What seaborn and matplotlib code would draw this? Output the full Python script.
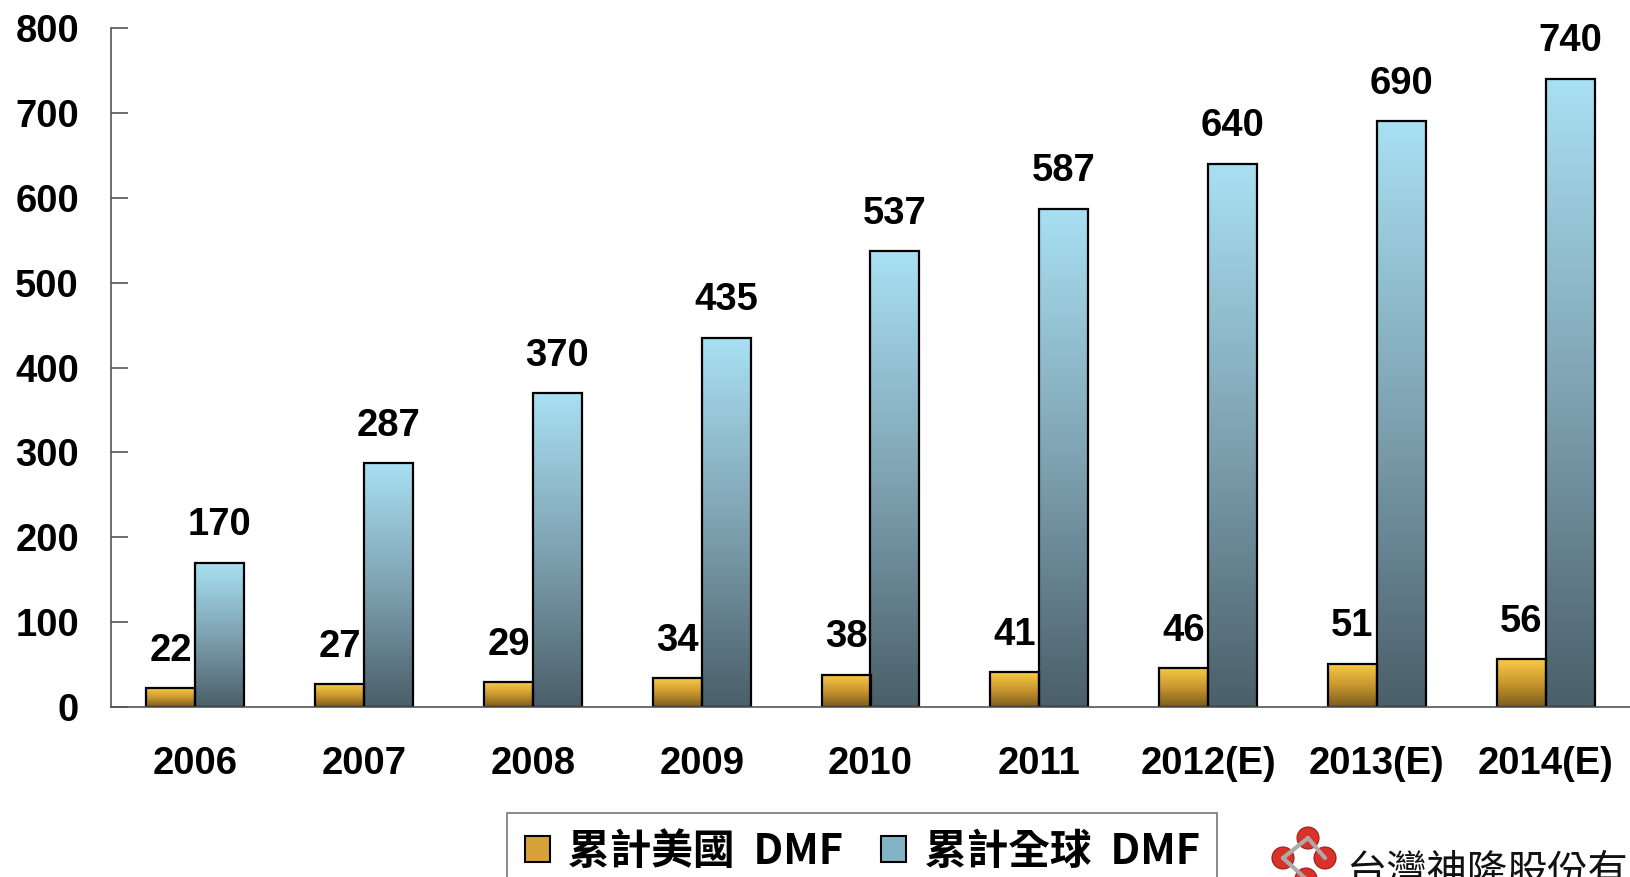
import numpy as np
import pandas as pd
import matplotlib
matplotlib.use("Agg")
import matplotlib.pyplot as plt
import seaborn as sns
from matplotlib.colors import LinearSegmentedColormap
from matplotlib.patches import Patch, Ellipse
from matplotlib.lines import Line2D

years = ["2006", "2007", "2008", "2009", "2010", "2011", "2012(E)", "2013(E)", "2014(E)"]
us_dmf = [22, 27, 29, 34, 38, 41, 46, 51, 56]
global_dmf = [170, 287, 370, 435, 537, 587, 640, 690, 740]
series_names = ["累計美國  DMF", "累計全球  DMF"]
y_ticks = [0, 100, 200, 300, 400, 500, 600, 700, 800]

sns.set_theme(style="white")
plt.rcParams['font.family'] = ['Liberation Sans', 'Noto Sans CJK TC', 'DejaVu Sans']

df = pd.DataFrame({
    "year": years * 2,
    "value": us_dmf + global_dmf,
    "series": [series_names[0]] * len(years) + [series_names[1]] * len(years),
})

W, H = 1630, 877
fig = plt.figure(figsize=(W / 100, H / 100), dpi=100)
ax = fig.add_axes([111 / W, 1 - 707 / H, 1 - 111 / W, (707 - 28) / H])

sns.barplot(data=df, x="year", y="value", hue="series", order=years,
            hue_order=series_names, palette=["#D8A83A", "#7FB5C8"],
            width=0.58, gap=0, edgecolor="black", linewidth=1.6,
            legend=False, ax=ax, errorbar=None)

cmaps = [LinearSegmentedColormap.from_list("y", ["#7A5C1E", "#C9972E", "#F9CB48"]),
         LinearSegmentedColormap.from_list("b", ["#4A5F69", "#7FA3B2", "#A8E0F3"])]
grad = np.linspace(0, 1, 256).reshape(-1, 1)

patches = list(ax.patches)
n = len(years)
for i, p in enumerate(patches[:2 * n]):
    s = i // n
    x0, y0 = p.get_x(), p.get_y()
    w, h = p.get_width(), p.get_height()
    im = ax.imshow(grad, cmap=cmaps[s], aspect="auto", origin="lower",
                   extent=[x0, x0 + w, y0, y0 + h], zorder=p.get_zorder() - 0.1,
                   vmin=0, vmax=1)
    im.set_clip_path(p)
    p.set_facecolor("none")
    ax.annotate(f"{int(round(h))}", (x0 + w / 2, h), xytext=(0, 14),
                textcoords="offset points", ha="center", va="bottom",
                fontsize=27.5, fontweight="bold", color="black")

ax.set_xlim(-0.5, n - 0.5)
ax.set_ylim(0, 800)
ax.set_yticks(y_ticks)
ax.set_xlabel("")
ax.set_ylabel("")
ax.set_xticks(range(n))
ax.set_xticklabels(years)
ax.set_xticks(np.arange(0.5, n - 0.5, 1), minor=True)
ax.tick_params(axis="x", which="major", length=0, pad=28, labelsize=27.5, labelcolor="black")
ax.tick_params(axis="x", which="minor", direction="in", length=12, width=1.2, color="#555555")
ax.tick_params(axis="y", direction="in", length=12, width=1.2, color="#555555", pad=23,
               labelsize=27.5, labelcolor="black", left=True)
for lab in ax.get_xticklabels() + ax.get_yticklabels():
    lab.set_fontweight("bold")
for side in ["top", "right"]:
    ax.spines[side].set_visible(False)
for side in ["left", "bottom"]:
    ax.spines[side].set_color("#555555")
    ax.spines[side].set_linewidth(1.2)
ax.grid(False)

handles = [Patch(facecolor="#D6A33A", edgecolor="black", linewidth=1.5),
           Patch(facecolor="#82B4C6", edgecolor="black", linewidth=1.5)]
leg = fig.legend(handles, series_names, loc="upper left",
                 bbox_to_anchor=(507 / W, 1 - 813 / H), borderaxespad=0, ncol=2,
                 frameon=True, fancybox=False, edgecolor="#555555",
                 prop={"family": ["Noto Sans CJK TC", "DejaVu Sans"], "size": 30, "weight": "bold"},
                 labelcolor="black",
                 handlelength=0.6, handleheight=0.6, handletextpad=0.45,
                 columnspacing=0.9, borderpad=0.42)
leg.get_frame().set_linewidth(1.2)

# company logo (partially cut at the bottom-right, as in the reference)
fig.text(1347 / W, 1 - 872 / H, "台灣神隆股份有限公司", ha="left", va="center",
         fontsize=29, family=["Noto Sans CJK TC", "DejaVu Sans"], color="#111111")
centers = [(1308, 838), (1283, 858), (1325, 858), (1306, 879)]
for (ax1, ay1), (bx1, by1) in [(centers[0], centers[1]), (centers[0], centers[2]), (centers[1], centers[3])]:
    fig.lines.append(Line2D([ax1 / W, bx1 / W], [1 - ay1 / H, 1 - by1 / H], transform=fig.transFigure,
                            color="#B0A8A8", linewidth=3))
for cx, cy in centers:
    fig.patches.append(Ellipse((cx / W, 1 - cy / H), 22 / W, 22 / H, transform=fig.transFigure,
                               facecolor="#D8322A", edgecolor="#9A1E18", linewidth=0.8))

fig.savefig("out.png", dpi=100)
